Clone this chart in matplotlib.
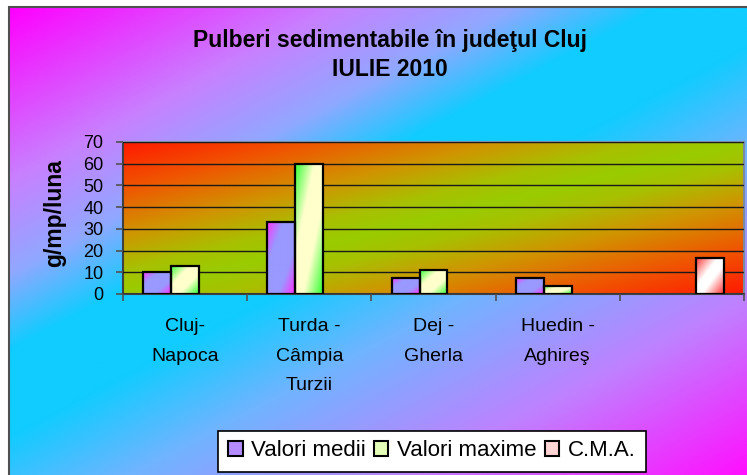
import numpy as np
import matplotlib.pyplot as plt
from matplotlib.colors import LinearSegmentedColormap
from matplotlib.patches import Patch, Rectangle

plt.rcParams['font.family'] = ['Liberation Sans', 'DejaVu Sans']

categories = ['Cluj-\nNapoca', 'Turda -\nCâmpia\nTurzii', 'Dej -\nGherla',
              'Huedin -\nAghireş', '']
medii = [10.2, 33.3, 7.5, 7.5, np.nan]
maxime = [12.9, 60.0, 11.2, 3.8, np.nan]
cma = [np.nan, np.nan, np.nan, np.nan, 16.8]
series_names = ['Valori medii', 'Valori maxime', 'C.M.A.']


def diag(n=200, wv=1.0):
    u = np.linspace(0, 1, n)
    return (u[None, :] + wv * u[:, None]) / (1 + wv)


bg_cmap = LinearSegmentedColormap.from_list('bg', [
    (0, '#ff00ff'), (0.2, '#c880ff'), (0.31, '#90a8ff'), (0.4, '#10ccff'),
    (0.5, '#10ccff'), (0.62, '#70b4ff'), (0.8, '#c080ff'), (1, '#ff10ff')])
plot_cmap = LinearSegmentedColormap.from_list('pl', [
    (0, '#ff1a00'), (0.15, '#f05500'), (0.3, '#d09400'), (0.42, '#a8c000'),
    (0.5, '#99cc00'), (0.58, '#a8c000'), (0.7, '#d09400'), (0.85, '#f05500'),
    (1, '#ff1a00')])
bar_cmaps = [
    LinearSegmentedColormap.from_list('m', [(0, '#ff33ff'), (0.3, '#9999ff'),
                                            (0.7, '#9999ff'), (1, '#ff33ff')]),
    LinearSegmentedColormap.from_list('x', [(0, '#33ff33'), (0.35, '#ffffcc'),
                                            (0.65, '#ffffcc'), (1, '#33ff33')]),
    LinearSegmentedColormap.from_list('c', [(0, '#ff3333'), (0.4, '#ffffff'),
                                            (0.6, '#ffffff'), (1, '#ff3333')]),
]
legend_colors = ['#b48cff', '#e4ffb8', '#ffd4d4']

W, H = 747, 475
fig = plt.figure(figsize=(W / 100, H / 100), dpi=100)
fig.patch.set_facecolor('white')

# chart area background
bg = fig.add_axes([9 / W, 0, 1 - 9 / W, 1 - 7 / H], zorder=-1)
bg.imshow(diag(300, 1.2), cmap=bg_cmap, aspect='auto', extent=(0, 1, 0, 1))
bg.set_xlim(0, 1)
bg.set_ylim(0, 1)
bg.axis('off')
fig.patches.append(Rectangle((9 / W, -0.01), 1, 1 - 7 / H + 0.01,
                             transform=fig.transFigure, fill=False,
                             edgecolor='#505050', lw=1.5))

ax = fig.add_axes([123 / W, 1 - 294 / H, 621 / W, 152 / H])
ax.imshow(diag(), cmap=plot_cmap, aspect='auto', extent=(0, 1, 0, 1),
          transform=ax.transAxes, zorder=0)

x = np.arange(len(categories)) + 0.5
width = 0.225
for k, vals in enumerate([medii, maxime, cma]):
    vals = np.array(vals)
    ok = ~np.isnan(vals)
    bars = ax.bar(x[ok] + (k - 1) * width, vals[ok], width, facecolor='none',
                  edgecolor='black', linewidth=1.6, zorder=4)
    for b in bars:
        ax.imshow(diag(60), cmap=bar_cmaps[k], aspect='auto', zorder=3,
                  extent=(b.get_x(), b.get_x() + b.get_width(), 0, b.get_height()))

ax.set_xlim(0, len(categories))
ax.set_ylim(0, 70)
ax.set_yticks(range(0, 71, 10))
ax.grid(axis='y', color='#1a1a1a', lw=1, zorder=1)
ax.set_axisbelow(False)
ax.set_xticks(range(len(categories) + 1))
ax.set_xticklabels([])
ax.set_xticks(x, minor=True)
ax.set_xticklabels(categories, minor=True, fontsize=14, linespacing=1.95)
ax.tick_params(axis='x', which='minor', length=0, pad=17.5)
ax.tick_params(axis='x', which='major', length=5, color='#505050', width=1.2)
ax.tick_params(axis='y', length=5, color='#505050', width=1.2, pad=9,
               labelsize=13)
for s in ['top', 'right']:
    ax.spines[s].set_color('#7a8aa0')
    ax.spines[s].set_linewidth(1.5)
for s in ['left', 'bottom']:
    ax.spines[s].set_color('#404040')
    ax.spines[s].set_linewidth(1.5)
ax.set_ylabel('g/mp/luna', fontsize=16.5, fontweight='bold')
ax.yaxis.set_label_coords(-0.092, 0.53)

fig.text(389.5 / W, 1 - 55 / H, 'Pulberi sedimentabile în judeţul Cluj\nIULIE 2010',
         ha='center', va='center', fontsize=16.5, fontweight='bold',
         linespacing=1.3)

handles = [Patch(facecolor=c, edgecolor='black', lw=1.5) for c in legend_colors]
leg = fig.legend(handles, series_names, loc='center', ncol=3, fontsize=16,
                 bbox_to_anchor=(432 / W, 1 - 451 / H), bbox_transform=fig.transFigure,
                 frameon=True, fancybox=False, framealpha=1, edgecolor='black',
                 handlelength=0.65, handleheight=0.65, handletextpad=0.4,
                 columnspacing=0.35, borderpad=0.45)
leg.get_frame().set_linewidth(1.2)

fig.savefig('out.png', dpi=100)
